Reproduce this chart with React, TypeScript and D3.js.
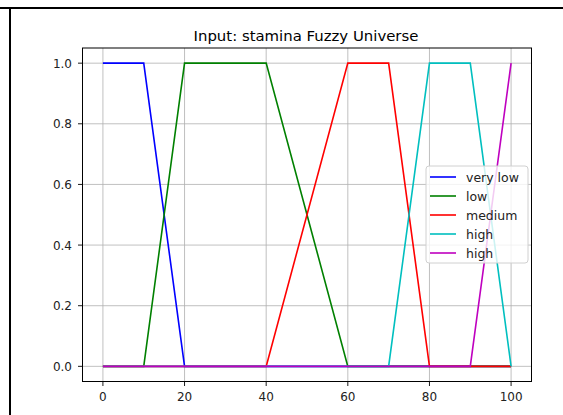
import React from "react";
import * as d3 from "d3";

const xs: number[][] = [
  [0, 10, 20, 100],
  [0, 10, 20, 40, 60, 100],
  [0, 40, 60, 70, 80, 100],
  [0, 70, 80, 90, 100],
  [0, 90, 100],
];
const ys: number[][] = [
  [1, 1, 0, 0],
  [0, 0, 1, 1, 0, 0],
  [0, 0, 1, 1, 0, 0],
  [0, 0, 1, 1, 0],
  [0, 0, 1],
];
const seriesNames = ["very low", "low", "medium", "high", "high"];
const seriesColors = ["#0000ff", "#008000", "#ff0000", "#00bfbf", "#bf00bf"];
const xTicks = [0, 20, 40, 60, 80, 100];
const yTicks = [0, 0.2, 0.4, 0.6, 0.8, 1.0];
const title = "Input: stamina Fuzzy Universe";

export default function App() {
  const W = 563, H = 415;
  const L = 82.5, R = 531.5, T = 48, B = 381.5;
  const x = d3.scaleLinear().domain([-5, 105]).range([L, R]);
  const y = d3.scaleLinear().domain([-0.05, 1.05]).range([B, T]);
  const line = d3.line<[number, number]>().x((d) => x(d[0])).y((d) => y(d[1]));
  const font = "DejaVu Sans, sans-serif";
  const legX = 426, legY = 166, legW = 102, legH = 97, rowH = 19;
  return (
    <svg width={W} height={H} style={{ position: "absolute", left: 0, top: 0 }} fontFamily={font}>
      <rect x={0} y={0} width={W} height={H} fill="#fff" />
      <line x1={0} x2={W} y1={8} y2={8} stroke="#000" strokeWidth={2} />
      <line x1={10} x2={10} y1={7} y2={H} stroke="#000" strokeWidth={2} />
      {xTicks.map((t) => (
        <line key={"gx" + t} x1={x(t)} x2={x(t)} y1={T} y2={B} stroke="#b0b0b0" strokeWidth={0.8} />
      ))}
      {yTicks.map((t) => (
        <line key={"gy" + t} x1={L} x2={R} y1={y(t)} y2={y(t)} stroke="#b0b0b0" strokeWidth={0.8} />
      ))}
      {xs.map((xv, i) => (
        <path
          key={"s" + i}
          d={line(xv.map((v, j) => [v, ys[i][j]] as [number, number])) || ""}
          fill="none"
          stroke={seriesColors[i]}
          strokeWidth={1.6}
        />
      ))}
      <rect x={L} y={T} width={R - L} height={B - T} fill="none" stroke="#000" strokeWidth={1} />
      {xTicks.map((t) => (
        <g key={"tx" + t}>
          <line x1={x(t)} x2={x(t)} y1={B} y2={B + 4.5} stroke="#000" strokeWidth={0.9} />
          <text x={x(t)} y={401} textAnchor="middle" fontSize={12} fill="#222">
            {t}
          </text>
        </g>
      ))}
      {yTicks.map((t) => (
        <g key={"ty" + t}>
          <line x1={L - 4.5} x2={L} y1={y(t)} y2={y(t)} stroke="#000" strokeWidth={0.9} />
          <text x={L - 10.5} y={y(t) + 4.5} textAnchor="end" fontSize={12} fill="#222">
            {t.toFixed(1)}
          </text>
        </g>
      ))}
      <text x={306} y={41} textAnchor="middle" fontSize={14.9} fill="#000">
        {title}
      </text>
      <g>
        <rect x={legX} y={legY} width={legW} height={legH} rx={3} fill="#fff" fillOpacity={0.8} stroke="#d0d0d0" strokeWidth={1} />
        {seriesNames.map((n, i) => (
          <g key={"l" + i}>
            <line
              x1={legX + 4}
              x2={legX + 30}
              y1={legY + 11 + i * rowH}
              y2={legY + 11 + i * rowH}
              stroke={seriesColors[i]}
              strokeWidth={1.6}
            />
            <text x={legX + 40} y={legY + 15.5 + i * rowH} fontSize={12.5} fill="#222">
              {n}
            </text>
          </g>
        ))}
      </g>
    </svg>
  );
}
